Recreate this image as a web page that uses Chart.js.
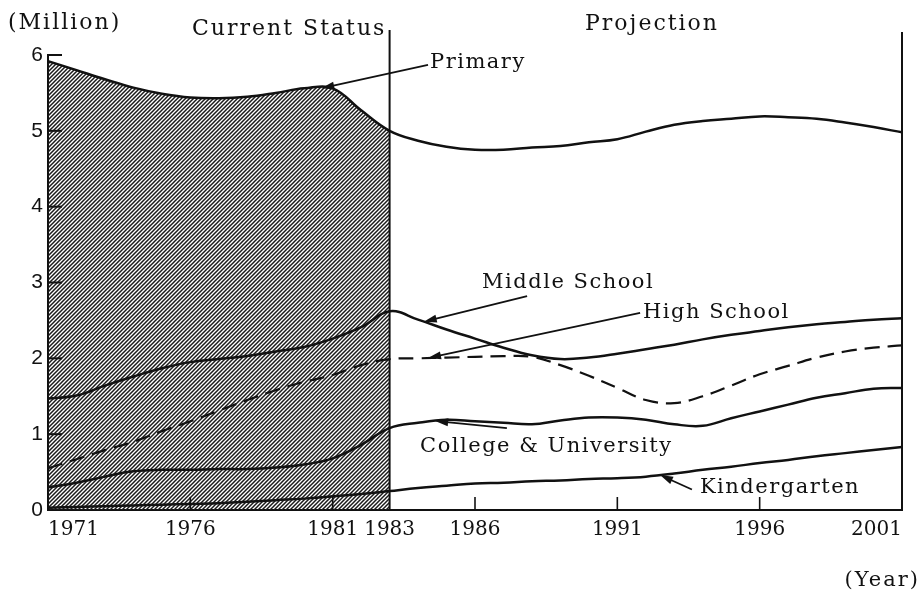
<!DOCTYPE html>
<html>
<head>
<meta charset="utf-8">
<title>Students by school level – current status and projection</title>
<script src="https://cdn.jsdelivr.net/npm/chart.js@4.4.1/dist/chart.umd.min.js"></script>
<style>
    html, body { margin: 0; padding: 0; background: #fff; }
    #chart { display: block; }
</style>
</head>
<body>
<canvas id="chart" width="924" height="591"></canvas>
<script>
// ── Data (millions of students) ───────────────────────────
var YEARS = [1971, 1972, 1973, 1974, 1975, 1976, 1977, 1978, 1979, 1980, 1981, 1982, 1983,
             1984, 1985, 1986, 1987, 1988, 1989, 1990, 1991, 1992, 1993, 1994, 1995, 1996,
             1997, 1998, 1999, 2000, 2001];
var PRIMARY = [5.92, 5.80, 5.68, 5.57, 5.49, 5.44, 5.43, 5.45, 5.50, 5.56, 5.56, 5.27, 5.00,
               4.87, 4.79, 4.75, 4.75, 4.78, 4.80, 4.85, 4.89, 4.99, 5.08, 5.13, 5.16, 5.19,
               5.18, 5.16, 5.11, 5.05, 4.98];
var MIDDLE = [1.47, 1.51, 1.64, 1.76, 1.87, 1.95, 1.99, 2.03, 2.09, 2.15, 2.26, 2.41, 2.62,
              2.51, 2.38, 2.26, 2.14, 2.04, 1.99, 2.01, 2.06, 2.12, 2.18, 2.25, 2.31, 2.36,
              2.41, 2.45, 2.48, 2.51, 2.53];
var HIGH = [0.55, 0.67, 0.79, 0.90, 1.04, 1.17, 1.31, 1.45, 1.58, 1.69, 1.78, 1.91, 1.99,
            2.00, 2.01, 2.02, 2.03, 2.02, 1.91, 1.77, 1.61, 1.45, 1.41, 1.50, 1.64, 1.79,
            1.90, 2.01, 2.09, 2.14, 2.17];
var COLLEGE = [0.30, 0.36, 0.44, 0.51, 0.53, 0.53, 0.54, 0.54, 0.56, 0.60, 0.68, 0.86, 1.08,
               1.15, 1.19, 1.17, 1.15, 1.13, 1.18, 1.22, 1.22, 1.19, 1.13, 1.11, 1.21, 1.30,
               1.39, 1.48, 1.54, 1.60, 1.61];
var KINDER = [0.03, 0.04, 0.05, 0.06, 0.07, 0.08, 0.09, 0.11, 0.13, 0.15, 0.18, 0.21, 0.25,
              0.29, 0.32, 0.35, 0.36, 0.38, 0.39, 0.41, 0.42, 0.44, 0.48, 0.53, 0.57, 0.62,
              0.66, 0.71, 0.75, 0.79, 0.83];
var X_TICKS = [1971, 1976, 1981, 1983, 1986, 1991, 1996, 2001];
var Y_TICKS = [0, 1, 2, 3, 4, 5, 6];
var LAST_ACTUAL = 1983;

(function () {
    'use strict';

    var INK = '#111';
    var SERIF = '"DejaVu Serif", "Liberation Serif", serif';

    function pointsOf(values, upTo) {
        var out = [];
        YEARS.forEach(function (yr, i) {
            if (upTo === undefined || yr <= upTo) out.push({ x: yr, y: values[i] });
        });
        return out;
    }

    // linear read-off of a series at any year (used to hook arrows onto lines)
    function valueAt(values, year) {
        for (var i = 0; i < YEARS.length - 1; i++) {
            if (year <= YEARS[i + 1]) {
                var t = (year - YEARS[i]) / (YEARS[i + 1] - YEARS[i]);
                return values[i] + t * (values[i + 1] - values[i]);
            }
        }
        return values[values.length - 1];
    }

    // ── Hatch pattern for the "current status" block ──────────
    function makeHatch(ctx) {
        var c = document.createElement('canvas');
        c.width = 4; c.height = 4;
        var g = c.getContext('2d');
        g.strokeStyle = '#1a1a1a';
        g.lineWidth = 1.5;
        g.beginPath();
        g.moveTo(0, 4); g.lineTo(4, 0);
        g.moveTo(-1, 1); g.lineTo(1, -1);
        g.moveTo(3, 5); g.lineTo(5, 3);
        g.stroke();
        return ctx.createPattern(c, 'repeat');
    }

    // ── Labels with arrows (data units) ───────────────────────
    var NOTES = [
        { text: 'Primary',              values: PRIMARY, head: 1980.6,  tail: [1984.35, 5.87], at: [1984.42, 5.83] },
        { text: 'Middle School',        values: MIDDLE,  head: 1984.2,  tail: [1987.83, 2.82], at: [1986.25, 2.93] },
        { text: 'High School',          values: HIGH,    head: 1984.35, tail: [1991.80, 2.60], at: [1991.90, 2.53] },
        { text: 'College & University', values: COLLEGE, head: 1984.6,  tail: [1987.12, 1.08], at: [1984.07, 0.76] },
        { text: 'Kindergarten',         values: KINDER,  head: 1992.5,  tail: [1993.62, 0.27], at: [1993.90, 0.23] }
    ];

    function arrow(ctx, x1, y1, x2, y2) {
        var a = Math.atan2(y2 - y1, x2 - x1);
        var L = 13, W = 4;
        var cos = Math.cos(a), sin = Math.sin(a);
        ctx.beginPath();
        ctx.moveTo(x1, y1);
        ctx.lineTo(x2 - L * 0.5 * cos, y2 - L * 0.5 * sin);
        ctx.stroke();
        ctx.beginPath();
        ctx.moveTo(x2, y2);
        ctx.lineTo(x2 - L * cos + W * sin, y2 - L * sin - W * cos);
        ctx.lineTo(x2 - L * cos - W * sin, y2 - L * sin + W * cos);
        ctx.closePath();
        ctx.fill();
    }

    function text(ctx, str, x, y, size, spacing, align) {
        ctx.font = size + 'px ' + SERIF;
        ctx.textAlign = align || 'left';
        ctx.textBaseline = 'alphabetic';
        if ('letterSpacing' in ctx) ctx.letterSpacing = spacing + 'px';
        ctx.fillText(str, x, y);
        if ('letterSpacing' in ctx) ctx.letterSpacing = '0px';
    }

    var decorations = {
        id: 'decorations',
        afterDatasetsDraw: function (chart) {
            var ctx = chart.ctx;
            var area = chart.chartArea;
            var xs = chart.scales.x, ys = chart.scales.y;
            ctx.save();
            ctx.strokeStyle = INK;
            ctx.fillStyle = INK;
            ctx.lineCap = 'butt';

            // inward tick marks on the value axis
            ctx.lineWidth = 2;
            Y_TICKS.forEach(function (v) {
                if (v === 0) return;
                var y = ys.getPixelForValue(v);
                ctx.beginPath();
                ctx.moveTo(area.left, y);
                ctx.lineTo(area.left + 14, y);
                ctx.stroke();
            });

            // inward tick marks on the year axis
            ctx.lineWidth = 1.6;
            X_TICKS.forEach(function (v) {
                if (v === 1971 || v === LAST_ACTUAL || v === 2001) return;
                var x = xs.getPixelForValue(v);
                ctx.beginPath();
                ctx.moveTo(x, area.bottom);
                ctx.lineTo(x, area.bottom - 13);
                ctx.stroke();
            });

            // divider between actual figures and projection, and right frame
            ctx.lineWidth = 2;
            var xd = xs.getPixelForValue(LAST_ACTUAL);
            ctx.beginPath();
            ctx.moveTo(xd, area.top - 25);
            ctx.lineTo(xd, area.bottom);
            ctx.moveTo(area.right, area.top - 23);
            ctx.lineTo(area.right, area.bottom);
            ctx.stroke();

            // series labels with arrows
            ctx.lineWidth = 1.8;
            NOTES.forEach(function (n) {
                var hx = xs.getPixelForValue(n.head);
                var hy = ys.getPixelForValue(valueAt(n.values, n.head));
                var tx = xs.getPixelForValue(n.tail[0]);
                var ty = ys.getPixelForValue(n.tail[1]);
                arrow(ctx, tx, ty, hx, hy);
                text(ctx, n.text, xs.getPixelForValue(n.at[0]), ys.getPixelForValue(n.at[1]), 21, 1.5);
            });

            // headings and units
            text(ctx, '(Million)', 8, 29, 22, 2);
            text(ctx, 'Current Status', 192, 35, 22, 2);
            text(ctx, 'Projection', 585, 30, 22, 2);
            text(ctx, '(Year)', 920, 586, 21, 2, 'right');
            ctx.restore();
        }
    };

    var canvas = document.getElementById('chart');
    var ctx = canvas.getContext('2d');

    var lineStyle = {
        borderColor: INK,
        borderWidth: 2.5,
        pointRadius: 0,
        fill: false,
        tension: 0.4,
        order: 0
    };

    function series(label, values, extra) {
        var ds = Object.assign({ label: label, data: pointsOf(values) }, lineStyle);
        return Object.assign(ds, extra || {});
    }

    new Chart(canvas, {
        type: 'line',
        data: {
            datasets: [
                series('Primary', PRIMARY),
                series('Middle School', MIDDLE),
                series('High School', HIGH, { borderDash: [15, 8], borderWidth: 2.2 }),
                series('College & University', COLLEGE),
                series('Kindergarten', KINDER),
                {
                    label: 'Current Status',
                    data: pointsOf(PRIMARY, LAST_ACTUAL),
                    backgroundColor: makeHatch(ctx),
                    borderWidth: 0,
                    borderColor: 'rgba(0,0,0,0)',
                    pointRadius: 0,
                    tension: 0.4,
                    fill: 'origin',
                    order: 1
                }
            ]
        },
        options: {
            responsive: false,
            animation: false,
            devicePixelRatio: 1,
            layout: { padding: { top: 55, right: 22, bottom: 0, left: 0 } },
            plugins: {
                legend: { display: false },
                tooltip: { enabled: false }
            },
            scales: {
                x: {
                    type: 'linear',
                    min: 1971,
                    max: 2001,
                    afterBuildTicks: function (s) {
                        s.ticks = X_TICKS.map(function (v) { return { value: v }; });
                    },
                    afterFit: function (s) { s.height = 81; },
                    grid: { display: false, drawTicks: false },
                    border: { display: true, color: INK, width: 2 },
                    ticks: {
                        autoSkip: false,
                        maxRotation: 0,
                        minRotation: 0,
                        align: 'inner',
                        padding: 8,
                        color: INK,
                        font: { family: SERIF, size: 20 },
                        callback: function (v) { return String(v); }
                    }
                },
                y: {
                    min: 0,
                    max: 6,
                    afterBuildTicks: function (s) {
                        s.ticks = Y_TICKS.map(function (v) { return { value: v }; });
                    },
                    afterFit: function (s) { s.width = 48; },
                    grid: { display: false, drawTicks: false },
                    border: { display: true, color: INK, width: 2 },
                    ticks: {
                        padding: 5,
                        color: INK,
                        font: { family: '"Liberation Sans", Arial, sans-serif', size: 21 },
                        callback: function (v) { return String(v); }
                    }
                }
            }
        },
        plugins: [decorations]
    });
}());
</script>
</body>
</html>
